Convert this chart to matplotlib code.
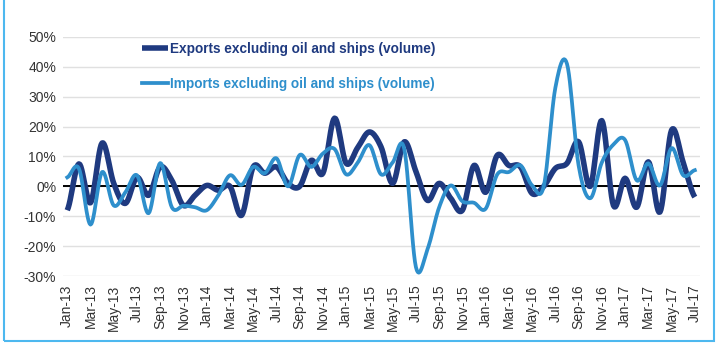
import numpy as np
import pandas as pd
from matplotlib import pyplot as plt
from matplotlib.patches import Rectangle

# monthly % change, Jan-13 .. Jul-17
months = pd.date_range("2013-01-01", "2017-07-01", freq="MS")
exports = [-8, 7.5, -5.5, 14.5, 1, -5.7, 3, -3, 6.5, 2,
           -6.4, -3, 0.3, -1.3, 0, -9.7, 6.5, 4.4, 6.5, 1,
           0, 8.7, 4.4, 22.8, 7.7, 13, 18.2, 13.2, 1, 14.9,
           5, -4.7, 1, -4, -8, 7, -2, 10.4, 7, 6.5,
           -2.4, 0, 6, 7.7, 14.9, 0, 22, -6.4, 2.7, -7,
           8.2, -8.6, 18.8, 8, -3.6]
imports = [3, 6, -12.8, 4.8, -6.4, -2, 3.7, -9, 7.8, -7,
           -6.5, -7, -8, -3, 3.7, 0.5, 6.5, 4.4, 9.4, 0,
           10.5, 6.5, 11, 12.5, 4, 8, 13.8, 4, 8, 12.5,
           -27, -21, -7, 0.3, -5, -5.5, -7.5, 4, 4.8, 7,
           0.3, 0, 33, 41, 7, -4, 8, 14, 15.5, 2,
           7.7, 0.3, 12.8, 3.7, 5.4]

export_label = "Exports excluding oil and ships (volume)"
import_label = "Imports excluding oil and ships (volume)"

export_color = "#1f3a80"
import_color = "#2e8fcc"


def smooth(y, n=12):
    # catmull-rom curve through the points, like excel's smoothed line
    y = np.asarray(y, dtype=float)
    p = np.concatenate([[y[0]], y, [y[-1]]])
    xs, ys = [], []
    t = np.linspace(0, 1, n, endpoint=False)
    for i in range(len(y) - 1):
        p0, p1, p2, p3 = p[i], p[i + 1], p[i + 2], p[i + 3]
        seg = 0.5 * ((2 * p1) + (-p0 + p2) * t + (2 * p0 - 5 * p1 + 4 * p2 - p3) * t ** 2
                     + (-p0 + 3 * p1 - 3 * p2 + p3) * t ** 3)
        xs.extend(i + t)
        ys.extend(seg)
    xs.append(len(y) - 1)
    ys.append(y[-1])
    return np.array(xs), np.array(ys)


plt.rcParams['font.family'] = ['Liberation Sans', 'DejaVu Sans']

fig = plt.figure(figsize=(7.18, 3.45), dpi=100)
ax = fig.add_axes([0.088, 0.2, 0.887, 0.693])

x = np.arange(len(months))
ex_x, ex_y = smooth(exports)
im_x, im_y = smooth(imports)
ax.plot(ex_x, ex_y, color=export_color, lw=4.0, label=export_label, solid_capstyle='butt', zorder=3)
ax.plot(im_x, im_y, color=import_color, lw=2.7, label=import_label, zorder=4)
ax.axhline(0, color='black', lw=1.4, zorder=2)

ax.set_ylim(-30, 50)
ax.set_xlim(-0.35, 54.45)
ax.set_yticks(range(-30, 51, 10))
ax.set_yticklabels([f"{v}%" for v in range(-30, 51, 10)])
ax.set_xticks(x[::2])
ax.set_xticklabels([m.strftime("%b-%y") for m in months[::2]], rotation=90)
ax.tick_params(length=0, labelsize=10, colors='#333333', pad=5)
ax.tick_params(axis='x', pad=6)
ax.grid(axis='y', color='#e0e0e0', lw=1)
ax.set_axisbelow(True)
for s in ax.spines.values():
    s.set_visible(False)

leg = ax.legend(loc='upper left', bbox_to_anchor=(0.105, 1.03), frameon=False,
                labelspacing=1.55, handlelength=1.9, handletextpad=0.15,
                prop={'weight': 'bold', 'size': 9.8})
for txt, c in zip(leg.get_texts(), [export_color, import_color]):
    txt.set_color(c)

fig.patches.append(Rectangle((0.005, 0.012), 0.989, 1.2, transform=fig.transFigure,
                             fill=False, edgecolor='#4db8ef', lw=1.5))

plt.savefig("out.png")
